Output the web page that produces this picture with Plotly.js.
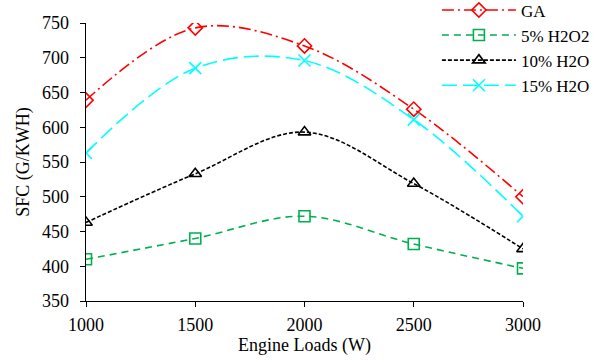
<!DOCTYPE html>
<html><head><meta charset="utf-8">
<script src="https://cdn.plot.ly/plotly-3.0.1.min.js"></script>
<style>html,body{margin:0;padding:0;background:#fff}#c{width:594px;height:360px}</style>
</head><body><div id="c"></div>
<script>
const loads = [1000, 1500, 2000, 2500, 3000];
const ga = [639, 743, 717, 626, 500];
const h2o2_5 = [410, 440, 472, 432, 397];
const h2o_10 = [463, 533, 593, 519, 425];
const h2o_15 = [563, 685, 696, 611, 472];
const names = ['GA', '5% H2O2', '10% H2O', '15% H2O'];

const styles = [
  {color:'#FF0000', dash:'12px,4px,2px,4px', symbol:'diamond-open', size:11},
  {color:'#00B050', dash:'7px,5px', symbol:'square-open', size:11},
  {color:'#000000', dash:'4px,2px', symbol:'triangle-up-open', size:11},
  {color:'#00FFFF', dash:'15px,6px', symbol:'x-thin-open', size:12}
];
const series = [ga, h2o2_5, h2o_10, h2o_15];
const traces = series.map((s,i)=>({
  x: loads, y: s, name: names[i], type:'scatter', mode:'lines+markers',
  line:{color:styles[i].color, dash:styles[i].dash, width:1.6, shape:'spline', smoothing:1},
  marker:{symbol:styles[i].symbol, size:styles[i].size, color:styles[i].color, line:{width:1.6, color:styles[i].color}}
}));
const fam = 'Times New Roman, Liberation Serif, serif';
const tf = {family:fam, size:18, color:'#000'};
Plotly.newPlot('c', traces, {
  width:594, height:360,
  margin:{l:86, r:71, t:23, b:59, autoexpand:false},
  paper_bgcolor:'#fff', plot_bgcolor:'#fff',
  font: tf,
  showlegend:true,
  legend:{x:0.803, y:1.11, xanchor:'left', yanchor:'top', bgcolor:'rgba(0,0,0,0)', font:{family:fam, size:17, color:'#000'}, itemwidth:74, tracegroupgap:0},
  xaxis:{range:[1000,3000], tickvals:loads, ticktext:['1000','1500','2000','2500','3000'], showgrid:false, zeroline:false,
    showline:true, linecolor:'#000', linewidth:1.3, ticks:'outside', ticklen:5, tickcolor:'#000', tickfont:tf, ticklabelstandoff:2,
    title:{text:'Engine Loads (W)', font:{family:fam, size:18, color:'#000'}, standoff:4}},
  yaxis:{range:[350,750], dtick:50, showgrid:false, zeroline:false,
    showline:true, linecolor:'#000', linewidth:1.3, ticks:'outside', ticklen:5, tickcolor:'#000', tickfont:tf, ticklabelstandoff:7,
    title:{text:'SFC (G/KWH)', font:{family:fam, size:18, color:'#000'}, standoff:7}}
}, {displayModeBar:false, staticPlot:true});
</script></body></html>
